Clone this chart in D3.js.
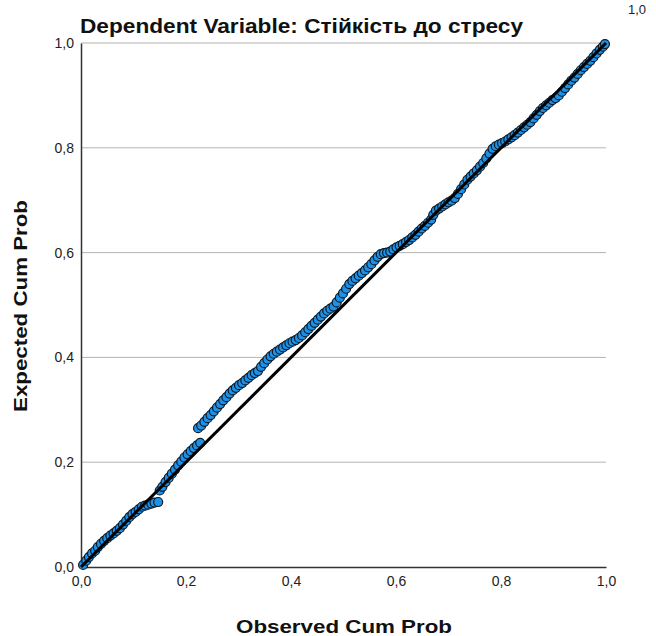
<!DOCTYPE html>
<html>
<head>
<meta charset="utf-8">
<script src="https://cdn.jsdelivr.net/npm/d3@7"></script>
<style>
  html, body { margin: 0; padding: 0; background: #fff; }
  svg text { font-family: "Liberation Sans", Arial, sans-serif; }
</style>
</head>
<body>
<svg id="chart" width="656" height="636"></svg>
<script>
// Normal P-P plot of regression standardized residual
const chartTitle = "Dependent Variable: Стійкість до стресу";
const xTitle = "Observed Cum Prob";
const yTitle = "Expected Cum Prob";
const tickValues = [0, 0.2, 0.4, 0.6, 0.8, 1.0];
const tickLabels = ["0,0", "0,2", "0,4", "0,6", "0,8", "1,0"];

// observed cumulative probability
const observed = [
  0.004,0.010,0.015,0.021,0.027,0.032,0.038,0.044,0.050,0.056,0.062,0.068,0.074,0.080,0.086,0.092,0.098,0.104,0.110,0.116,
  0.122,0.128,0.134,0.140,0.147,0.150,0.155,0.161,0.167,0.173,0.179,0.185,0.191,0.197,0.203,0.209,0.215,0.221,0.227,
  0.223,0.229,0.235,0.241,0.247,0.253,0.259,0.265,0.271,0.277,0.283,0.289,0.295,0.301,0.307,0.313,0.319,0.325,0.331,0.337,
  0.343,0.349,0.355,0.361,0.367,0.373,0.379,0.385,0.391,0.397,0.403,0.409,0.415,0.421,0.427,0.433,0.439,0.445,0.451,0.457,
  0.463,0.469,0.475,0.481,0.487,0.493,0.499,0.505,0.511,0.517,0.523,0.529,0.535,0.541,0.547,0.553,0.559,0.565,0.571,0.577,
  0.583,0.589,0.595,0.601,0.607,0.613,0.619,0.625,0.631,0.637,0.643,0.649,0.655,0.661,0.667,0.671,0.676,0.682,0.688,0.694,
  0.700,0.706,0.712,0.718,0.724,0.730,0.736,0.742,0.748,0.754,0.760,0.766,0.772,0.778,0.784,0.790,0.796,0.802,0.808,0.814,
  0.820,0.826,0.832,0.838,0.844,0.850,0.856,0.862,0.868,0.874,0.880,0.886,0.892,0.898,0.904,0.910,0.916,0.922,0.928,0.934,
  0.940,0.946,0.952,0.958,0.964,0.970,0.976,0.982,0.988,0.994,0.998
];
// expected cumulative probability
const expected = [
  0.004,0.012,0.019,0.026,0.031,0.038,0.044,0.050,0.055,0.060,0.064,0.069,0.074,0.081,0.088,0.095,0.101,0.105,0.110,0.115,
  0.117,0.119,0.121,0.123,0.124,0.146,0.153,0.162,0.170,0.178,0.186,0.194,0.201,0.209,0.215,0.221,0.227,0.232,0.237,
  0.265,0.270,0.277,0.284,0.290,0.297,0.304,0.311,0.318,0.324,0.331,0.337,0.342,0.347,0.351,0.356,0.361,0.366,0.370,0.374,
  0.382,0.389,0.396,0.402,0.407,0.411,0.415,0.419,0.423,0.427,0.430,0.433,0.437,0.442,0.448,0.454,0.460,0.466,0.472,0.478,
  0.484,0.489,0.493,0.497,0.505,0.514,0.522,0.531,0.540,0.546,0.551,0.556,0.561,0.566,0.572,0.578,0.585,0.592,0.597,0.599,
  0.600,0.602,0.606,0.610,0.613,0.616,0.620,0.624,0.629,0.634,0.640,0.646,0.651,0.657,0.663,0.672,0.680,0.684,0.688,0.692,
  0.696,0.699,0.704,0.712,0.721,0.730,0.739,0.745,0.751,0.757,0.764,0.771,0.780,0.789,0.798,0.803,0.806,0.809,0.812,0.816,
  0.820,0.824,0.829,0.834,0.839,0.844,0.849,0.856,0.863,0.870,0.876,0.881,0.886,0.891,0.895,0.900,0.907,0.914,0.921,0.928,
  0.934,0.941,0.948,0.954,0.960,0.966,0.973,0.980,0.987,0.993,0.998
];

const points = observed.map((o, i) => ({ o, e: expected[i] }));

const svg = d3.select("#chart");
const plotLeft = 81, plotRight = 606, plotTop = 43, plotBottom = 567;

const x = d3.scaleLinear().domain([0, 1]).range([plotLeft, plotRight]);
const y = d3.scaleLinear().domain([0, 1]).range([plotBottom, plotTop]);

// horizontal grid lines
svg.append("g")
  .selectAll("line")
  .data(tickValues.filter(v => v > 0))
  .join("line")
  .attr("x1", plotLeft).attr("x2", plotRight)
  .attr("y1", d => y(d)).attr("y2", d => y(d))
  .attr("stroke", "#b4b4b4")
  .attr("stroke-width", 1);

// axes
const xAxis = d3.axisBottom(x).tickValues(tickValues)
  .tickFormat((d, i) => tickLabels[i]).tickSize(0).tickPadding(9);
const yAxis = d3.axisLeft(y).tickValues(tickValues)
  .tickFormat((d, i) => tickLabels[i]).tickSize(0).tickPadding(7);

const gx = svg.append("g").attr("transform", `translate(0,${plotBottom})`).call(xAxis);
const gy = svg.append("g").attr("transform", `translate(${plotLeft},0)`).call(yAxis);
[gx, gy].forEach(g => {
  g.select(".domain").attr("stroke", "#333").attr("stroke-width", 1.5);
  g.selectAll("text")
    .attr("font-family", "Liberation Sans, Arial, sans-serif")
    .attr("font-size", 14)
    .attr("fill", "#222");
});

// points
svg.append("g")
  .selectAll("circle")
  .data(points)
  .join("circle")
  .attr("cx", d => x(d.o))
  .attr("cy", d => y(d.e))
  .attr("r", 4.5)
  .attr("fill", "#1e90e6")
  .attr("stroke", "#0d1a26")
  .attr("stroke-width", 1.2);

// reference diagonal
svg.append("line")
  .attr("x1", x(0)).attr("y1", y(0))
  .attr("x2", x(1)).attr("y2", y(1))
  .attr("stroke", "#000")
  .attr("stroke-width", 3);

// titles
svg.append("text")
  .attr("x", 80).attr("y", 33)
  .attr("font-size", 20).attr("font-weight", "bold").attr("fill", "#111")
  .attr("textLength", 443).attr("lengthAdjust", "spacingAndGlyphs")
  .text(chartTitle);

svg.append("text")
  .attr("x", 344).attr("y", 633)
  .attr("text-anchor", "middle")
  .attr("font-size", 19).attr("font-weight", "bold").attr("fill", "#111")
  .attr("textLength", 216).attr("lengthAdjust", "spacingAndGlyphs")
  .text(xTitle);

svg.append("text")
  .attr("transform", `translate(27,306) rotate(-90)`)
  .attr("text-anchor", "middle")
  .attr("font-size", 19).attr("font-weight", "bold").attr("fill", "#111")
  .attr("textLength", 212).attr("lengthAdjust", "spacingAndGlyphs")
  .text(yTitle);

// stray tick label at top right
svg.append("text")
  .attr("x", 628).attr("y", 14)
  .attr("font-size", 13).attr("fill", "#222")
  .text("1,0");
</script>
</body>
</html>
